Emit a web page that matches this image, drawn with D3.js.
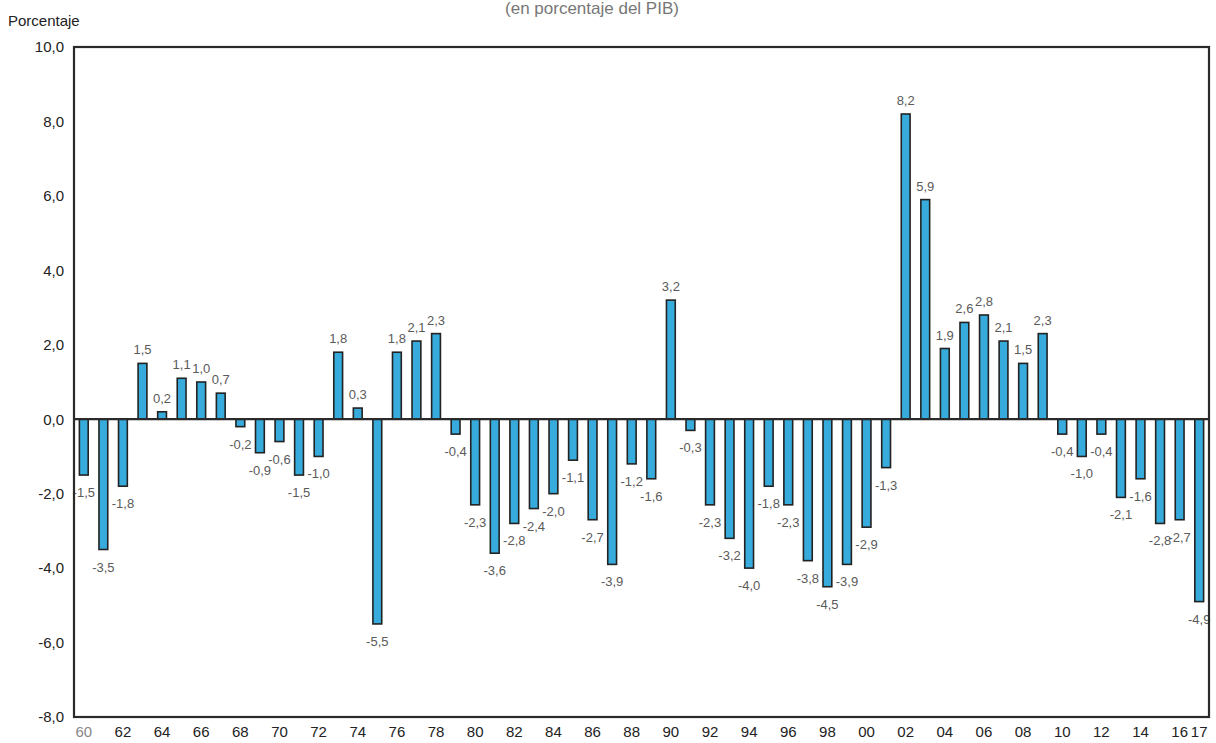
<!DOCTYPE html>
<html>
<head>
<meta charset="utf-8">
<script src="https://cdn.jsdelivr.net/npm/d3@7"></script>
<style>
  html, body { margin: 0; padding: 0; background: #fff; }
  svg { display: block; font-family: "Liberation Sans Narrow", "Arial Narrow", "Liberation Sans", Arial, sans-serif; }
</style>
</head>
<body>
<svg id="chart" width="1216" height="743"></svg>
<script>
const years = ["60","61","62","63","64","65","66","67","68","69",
  "70","71","72","73","74","75","76","77","78","79",
  "80","81","82","83","84","85","86","87","88","89",
  "90","91","92","93","94","95","96","97","98","99",
  "00","01","02","03","04","05","06","07","08","09",
  "10","11","12","13","14","15","16","17"];
const values = [-1.5,-3.5,-1.8,1.5,0.2,1.1,1.0,0.7,-0.2,-0.9,
  -0.6,-1.5,-1.0,1.8,0.3,-5.5,1.8,2.1,2.3,-0.4,
  -2.3,-3.6,-2.8,-2.4,-2.0,-1.1,-2.7,-3.9,-1.2,-1.6,
  3.2,-0.3,-2.3,-3.2,-4.0,-1.8,-2.3,-3.8,-4.5,-3.9,
  -2.9,-1.3,8.2,5.9,1.9,2.6,2.8,2.1,1.5,2.3,
  -0.4,-1.0,-0.4,-2.1,-1.6,-2.8,-2.7,-4.9];
const xTickLabels = ["60","62","64","66","68","70","72","74","76","78","80","82","84","86","88",
  "90","92","94","96","98","00","02","04","06","08","10","12","14","16","17"];
const yTicks = [-8,-6,-4,-2,0,2,4,6,8,10];
const subtitle = "(en porcentaje del PIB)";
const yTitle = "Porcentaje";

const svg = d3.select("#chart");
const mLeft = 74, mRight = 1209, mTop = 47, mBottom = 717;

const x = d3.scaleBand().domain(years).range([mLeft, mRight]).paddingInner(0.55).paddingOuter(0.275);
const y = d3.scaleLinear().domain([-8, 10]).range([mBottom, mTop]);
const fmt = v => d3.format(".1f")(v).replace(".", ",").replace("−", "-");

svg.append("text").attr("x", 592).attr("y", 14).attr("text-anchor", "middle")
  .attr("font-size", 17).attr("fill", "#777").text(subtitle);

svg.append("text").attr("x", 8).attr("y", 26).attr("font-size", 15).attr("fill", "#222").text(yTitle);

const yAxis = d3.axisLeft(y).tickValues(yTicks).tickSize(0).tickPadding(10).tickFormat(fmt);
const gy = svg.append("g").attr("transform", `translate(${mLeft},0)`).call(yAxis);
gy.select(".domain").remove();
gy.attr("font-family", null).attr("font-size", null);
gy.selectAll("text").attr("font-size", 15).attr("fill", "#222");

const xAxis = d3.axisBottom(x).tickValues(xTickLabels).tickSize(0).tickPadding(9);
const gx = svg.append("g").attr("transform", `translate(0,${mBottom})`).call(xAxis);
gx.select(".domain").remove();
gx.attr("font-family", null).attr("font-size", null);
gx.selectAll("text").attr("font-size", 15)
  .attr("fill", d => d === "60" ? "#888" : "#222");

svg.append("g").selectAll("rect").data(values).join("rect")
  .attr("x", (d, i) => x(years[i]))
  .attr("width", x.bandwidth())
  .attr("y", d => y(Math.max(0, d)))
  .attr("height", d => Math.abs(y(d) - y(0)))
  .attr("fill", "#37abdb").attr("stroke", "#222").attr("stroke-width", 1.6);

svg.append("g").selectAll("text").data(values).join("text")
  .attr("x", (d, i) => x(years[i]) + x.bandwidth() / 2)
  .attr("y", d => d >= 0 ? y(d) - 9 : y(d) + 22)
  .attr("text-anchor", "middle")
  .attr("font-size", 13).attr("fill", "#5a5a5a")
  .text(d => fmt(d));

svg.append("line").attr("x1", mLeft).attr("x2", mRight).attr("y1", y(0)).attr("y2", y(0))
  .attr("stroke", "#2a2a2a").attr("stroke-width", 2.2);

svg.append("rect").attr("x", mLeft).attr("y", mTop).attr("width", mRight - mLeft).attr("height", mBottom - mTop)
  .attr("fill", "none").attr("stroke", "#2a2a2a").attr("stroke-width", 2.2);
</script>
</body>
</html>
